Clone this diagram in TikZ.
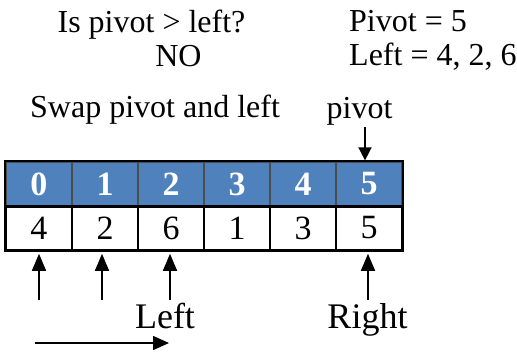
\documentclass[tikz,border=0pt]{standalone}
\usepackage{fontspec}
\setmainfont{Liberation Serif}
\usetikzlibrary{arrows.meta}
\definecolor{hdr}{HTML}{4F81BD}
\begin{document}
\begin{tikzpicture}[x=1pt,y=-1pt,
 txt/.style={inner sep=0pt, font=\fontsize{32}{36}\selectfont},
 lbl/.style={inner sep=0pt, font=\fontsize{36}{40}\selectfont},
 hcell/.style={draw=black!70, fill=hdr, line width=1.2pt, minimum width=66pt, minimum height=44pt, inner sep=0pt, text=white, font=\fontsize{34}{38}\selectfont\bfseries},
 vcell/.style={draw=black, line width=1.6pt, minimum width=66pt, minimum height=44pt, inner sep=0pt, font=\fontsize{34}{38}\selectfont},
 uparr/.style={line width=1.5pt, -{Triangle[length=17pt,width=14pt]}},
 harr/.style={line width=1.5pt, -{Triangle[length=16pt,width=14pt]}},
 downarr/.style={line width=1.5pt, -{Triangle[length=13pt,width=13pt]}},
]
\useasboundingbox (0,0) rectangle (517,354);
% top texts
\node[txt, anchor=base] (q) at (151.5,32) {Is pivot > left?};
\node[txt, anchor=base] (no) at (178.5,66) {NO};
\node[txt, anchor=base west] (pv) at (349,31) {Pivot = 5};
\node[txt, anchor=base west] (lf) at (349,65) {Left = 4, 2, 6};
\node[txt, anchor=base west] (sw) at (30,117) {Swap pivot and left};
\node[txt, anchor=base] (pl) at (359.5,118) {pivot};
% table
\foreach \i/\v in {0/4,1/2,2/6,3/1,4/3,5/5}{
  \node[hcell] (h\i) at ({39+66*\i},184) {\i};
  \node[vcell] (v\i) at ({39+66*\i},228) {\v};
}
\draw[line width=2pt] (h0.north west) rectangle (v5.south east);
\draw[line width=2pt] (h0.south west) -- (h5.south east);
% down arrow to pivot
\coordinate (pa) at (365,127);
\draw[downarr, shorten >=1pt] (pa) -- (pa |- h5.north);
% up arrows
\coordinate (a0) at (39,300);
\coordinate (a1) at (102,300);
\coordinate (a2) at (170,300);
\coordinate (a5) at (368,300);
\foreach \k in {0,1,2,5}{
  \draw[uparr, shorten >=3pt] (a\k) -- (a\k |- v\k.south);
}
% labels
\node[lbl, anchor=base] (ll) at (165,328) {Left};
\node[lbl, anchor=base] (rl) at (367.5,328) {Right};
% horizontal arrow
\coordinate (ha) at (35,343);
\coordinate (hb) at (169,343);
\draw[harr] (ha) -- (hb);
\end{tikzpicture}
\end{document}
